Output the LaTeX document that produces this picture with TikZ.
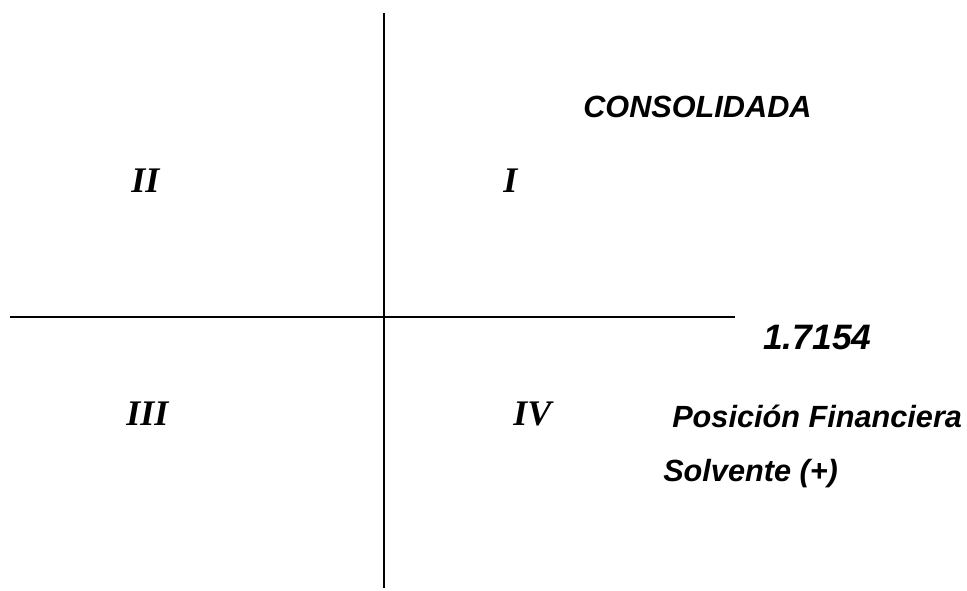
\documentclass[tikz,border=0pt]{standalone}
\usepackage{fontspec}
\setmainfont{Liberation Serif}
\setsansfont{Liberation Sans}
\begin{document}
\begin{tikzpicture}[x=0.75pt,y=-0.75pt,
  axis/.style={line width=1.3pt},
  roman/.style={font=\fontsize{27}{31}\selectfont\bfseries\itshape, anchor=base west, inner sep=0pt},
  label/.style={font=\fontsize{23}{27}\sffamily\bfseries\itshape, anchor=base west, inner sep=0pt},
  value/.style={font=\fontsize{26.5}{30}\sffamily\bfseries\itshape, anchor=base west, inner sep=0pt}]
  \useasboundingbox (0,0) rectangle (967,591);
  % axes
  \coordinate (top) at (384,13);
  \coordinate (bottom) at (384,588);
  \coordinate (left) at (10,317);
  \coordinate (right) at (735,317);
  \draw[axis] (top) -- (bottom);
  \draw[axis] (left) -- (right);
  % quadrant numerals
  \node[roman] (q2) at (131,193) {II};
  \node[roman] (q1) at (503,193) {I};
  \node[roman] (q3) at (126,426) {III};
  \node[roman] (q4) at (513,426) {IV};
  % annotations
  \node[label] (cons) at (583,118) {CONSOLIDADA};
  \node[value] (val) at (763,350) {1.7154};
  \node[label] (pos) at (672,427) {Posición Financiera};
  \node[label] (solv) at (663,481) {Solvente (+)};
\end{tikzpicture}
\end{document}
